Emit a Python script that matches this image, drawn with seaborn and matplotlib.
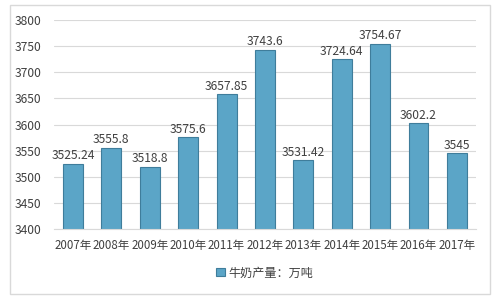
import matplotlib
matplotlib.use("Agg")
import matplotlib.pyplot as plt
import seaborn as sns
import pandas as pd
from matplotlib.patches import Rectangle

years = ["2007年", "2008年", "2009年", "2010年", "2011年", "2012年",
         "2013年", "2014年", "2015年", "2016年", "2017年"]
values = [3525.24, 3555.8, 3518.8, 3575.6, 3657.85, 3743.6,
          3531.42, 3724.64, 3754.67, 3602.2, 3545]
labels = ["3525.24", "3555.8", "3518.8", "3575.6", "3657.85", "3743.6",
          "3531.42", "3724.64", "3754.67", "3602.2", "3545"]
series_name = "牛奶产量：万吨"
yticks = [3400, 3450, 3500, 3550, 3600, 3650, 3700, 3750, 3800]

sns.set_style("white")
plt.rcParams['font.family'] = ['Noto Sans CJK SC', 'DejaVu Sans']

df = pd.DataFrame({"year": years, "value": values, "series": series_name})

fig = plt.figure(figsize=(4.98, 2.99), dpi=100)
ax = fig.add_axes([0.108, 0.234, 0.848, 0.699])

bar_color = "#5ba5c7"
edge_color = "#3f7d9b"
sns.barplot(data=df, x="year", y="value", hue="series", palette=[bar_color],
            saturation=1, width=0.52, edgecolor=edge_color, linewidth=0.8,
            ax=ax, legend=True)

ax.set_ylim(3400, 3800)
ax.set_yticks(yticks)
ax.set_xlim(-0.5, len(years) - 0.5)
ax.grid(axis="y", color="#d9d9d9", linewidth=0.8)
ax.set_axisbelow(True)
for s in ["top", "right", "left"]:
    ax.spines[s].set_visible(False)
ax.spines["bottom"].set_color("#d9d9d9")
ax.set_xlabel("")
ax.set_ylabel("")
ax.tick_params(axis="both", length=0, labelsize=8.7, colors="#404040")
ax.tick_params(axis="x", pad=7, labelsize=8.3)
ax.tick_params(axis="y", pad=9)

for i, (v, t) in enumerate(zip(values, labels)):
    ax.text(i, v + 3, t, ha="center", va="bottom", fontsize=8.7, color="#404040")

leg = ax.legend(loc="center", bbox_to_anchor=(0.5, -0.21), frameon=False,
                fontsize=8.7, handlelength=0.7, handleheight=0.7, handletextpad=0.3)
for txt in leg.get_texts():
    txt.set_color("#404040")

fig.patches.append(Rectangle((10 / 498, 1 - 294 / 299), 480 / 498, 289 / 299,
                             transform=fig.transFigure, fill=False,
                             edgecolor="#d9d9d9", linewidth=1))

fig.savefig("out.png", dpi=100)
